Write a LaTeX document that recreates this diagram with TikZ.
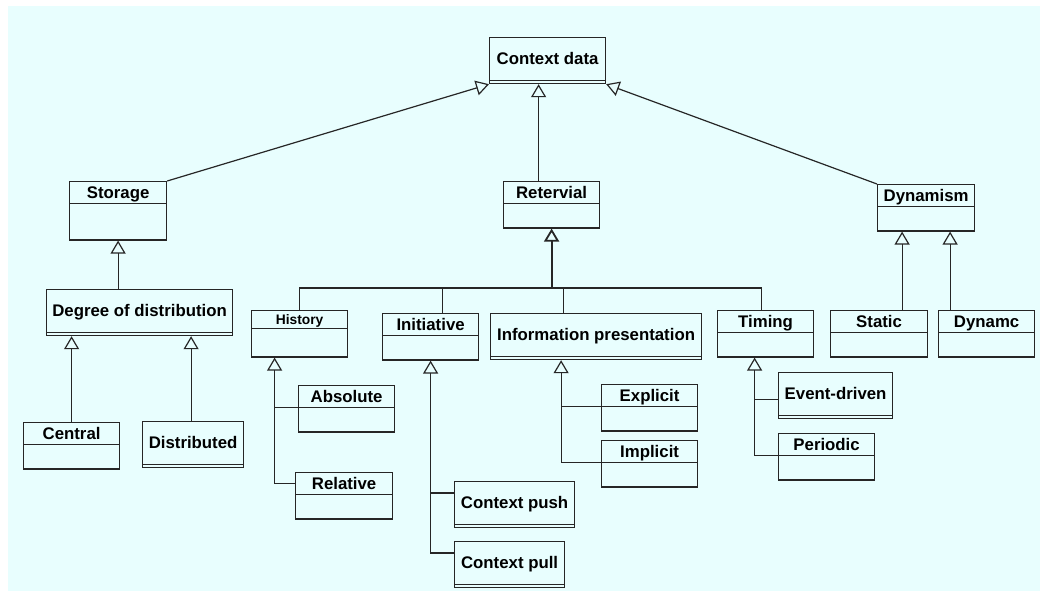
\documentclass[tikz,border=0pt]{standalone}
\usepackage{fontspec}
\setmainfont{Liberation Sans}
\usetikzlibrary{calc}
\usetikzlibrary{arrows.meta}
\usetikzlibrary{shapes.multipart}
\definecolor{bgcyan}{HTML}{E8FEFE}
\newcommand{\twopart}[2][23pt]{\rule[-5pt]{0pt}{21pt}#2\nodepart{second}\rule{0pt}{#1}}
\newcommand{\onepart}[1]{\rule[-16pt]{0pt}{42pt}#1\nodepart{second}\rule{0pt}{1.6pt}}

\begin{document}
\begin{tikzpicture}[x=1pt, y=-1pt,
 cls/.style={rectangle split, rectangle split parts=2, draw=black!85, line width=1.2pt,
   inner xsep=0pt, inner ysep=0pt, anchor=north west, font=\bfseries\fontsize{16.8}{18}\selectfont},
 inh/.style={draw=black!85, line width=1.2pt, -{Triangle[open, length=13pt, width=15pt]}},
 assoc/.style={draw=black!85, line width=1.2pt}]
\useasboundingbox (0,0) rectangle (1044,595);
\fill[bgcyan] (8,6) rectangle (1040,591);

% root
\node[cls, minimum width=116pt] (ctx) at (489,37) {\onepart{Context data}};

% first level
\node[cls, minimum width=97pt] (sto) at (69,181) {\twopart[35pt]{Storage}};
\node[cls, minimum width=96pt] (ret) at (503,181) {\twopart{Retervial}};
\node[cls, minimum width=97pt] (dym) at (877,184) {\twopart{Dynamism}};

% storage side
\node[cls, minimum width=186pt] (deg) at (46,289) {\onepart{Degree of distribution}};
\node[cls, minimum width=96pt] (cen) at (23,422) {\twopart{Central}};
\node[cls, minimum width=101pt] (dis) at (142,421) {\onepart{Distributed}};

% retervial side
\node[cls, minimum width=96pt, font=\bfseries\fontsize{13.8}{15}\selectfont] (his) at (251,310)
  {\rule[-4pt]{0pt}{17pt}History\nodepart{second}\rule{0pt}{27pt}};
\node[cls, minimum width=96pt] (ini) at (382,313) {\twopart{Initiative}};
\node[cls, minimum width=211pt] (inf) at (490,313) {\onepart{Information presentation}};
\node[cls, minimum width=96pt] (tim) at (717,310) {\twopart{Timing}};

\node[cls, minimum width=96pt] (abs) at (298,385) {\twopart{Absolute}};
\node[cls, minimum width=97pt] (rel) at (295,472) {\twopart{Relative}};
\node[cls, minimum width=120pt] (push) at (454,481) {\onepart{Context push}};
\node[cls, minimum width=110pt] (pull) at (454,541) {\onepart{Context pull}};
\node[cls, minimum width=96pt] (exp) at (601,384) {\twopart{Explicit}};
\node[cls, minimum width=96pt] (imp) at (601,440) {\twopart{Implicit}};
\node[cls, minimum width=114pt] (ev) at (778,372) {\onepart{Event-driven}};
\node[cls, minimum width=96pt] (per) at (778,433) {\twopart{Periodic}};

% dynamism side
\node[cls, minimum width=97pt] (sta) at (830,310) {\twopart{Static}};
\node[cls, minimum width=96pt] (dyc) at (938,310) {\twopart{Dynamc}};

% generalisations to the root
\draw[inh] (sto.north east) -- (ctx.south west);
\coordinate (retup) at ([xshift=-13pt]ret.north);
\draw[inh] (retup) -- (retup |- ctx.south);
\draw[inh] (dym.north west) -- (ctx.south east);

% storage
\draw[inh] (deg.north -| sto.south) -- (sto.south);
\draw[inh] (cen.north) -- (cen.north |- deg.south);
\coordinate (disup) at ([xshift=-2pt]dis.north);
\draw[inh] (disup) -- (disup |- deg.south);

% retervial bus
\coordinate (bus) at (ret.south |- 0,288);
\draw[inh, line width=1.8pt] (bus) -- (ret.south);
\draw[assoc] (his.north) |- (bus) -| ([xshift=-4pt]tim.north);
\coordinate (iniup) at ([xshift=12pt]ini.north);
\draw[assoc] (iniup) -- (iniup |- bus);
\coordinate (infup) at ([xshift=-33pt]inf.north);
\draw[assoc] (infup) -- (infup |- bus);

% history
\coordinate (hisbar) at ([xshift=-25pt]his.south);
\coordinate (relin) at ([yshift=11pt]rel.text split west);
\draw[inh] (relin) -| (hisbar);
\draw[assoc] (abs.text split west) -- (abs.text split west -| hisbar);

% initiative
\coordinate (pullin) at ([yshift=-12pt]pull.north west);
\coordinate (pushin) at ([yshift=-12pt]push.north west);
\draw[inh] (pullin) -| (ini.south);
\draw[assoc] (pushin) -- (pushin -| ini.south);

% information presentation
\coordinate (infbar) at ([xshift=-35pt]inf.south);
\draw[inh] (imp.text split west) -| (infbar);
\draw[assoc] (exp.text split west) -- (exp.text split west -| infbar);

% timing
\coordinate (timbar) at ([xshift=-11pt]tim.south);
\coordinate (evin) at ([yshift=-4pt]ev.west);
\draw[inh] (per.text split west) -| (timbar);
\draw[assoc] (evin) -- (evin -| timbar);

% dynamism
\coordinate (staup) at ([xshift=-24pt]dym.south);
\coordinate (dycup) at ([xshift=24pt]dym.south);
\draw[inh] (staup |- sta.north) -- (staup);
\draw[inh] (dycup |- dyc.north) -- (dycup);
\end{tikzpicture}
\end{document}
